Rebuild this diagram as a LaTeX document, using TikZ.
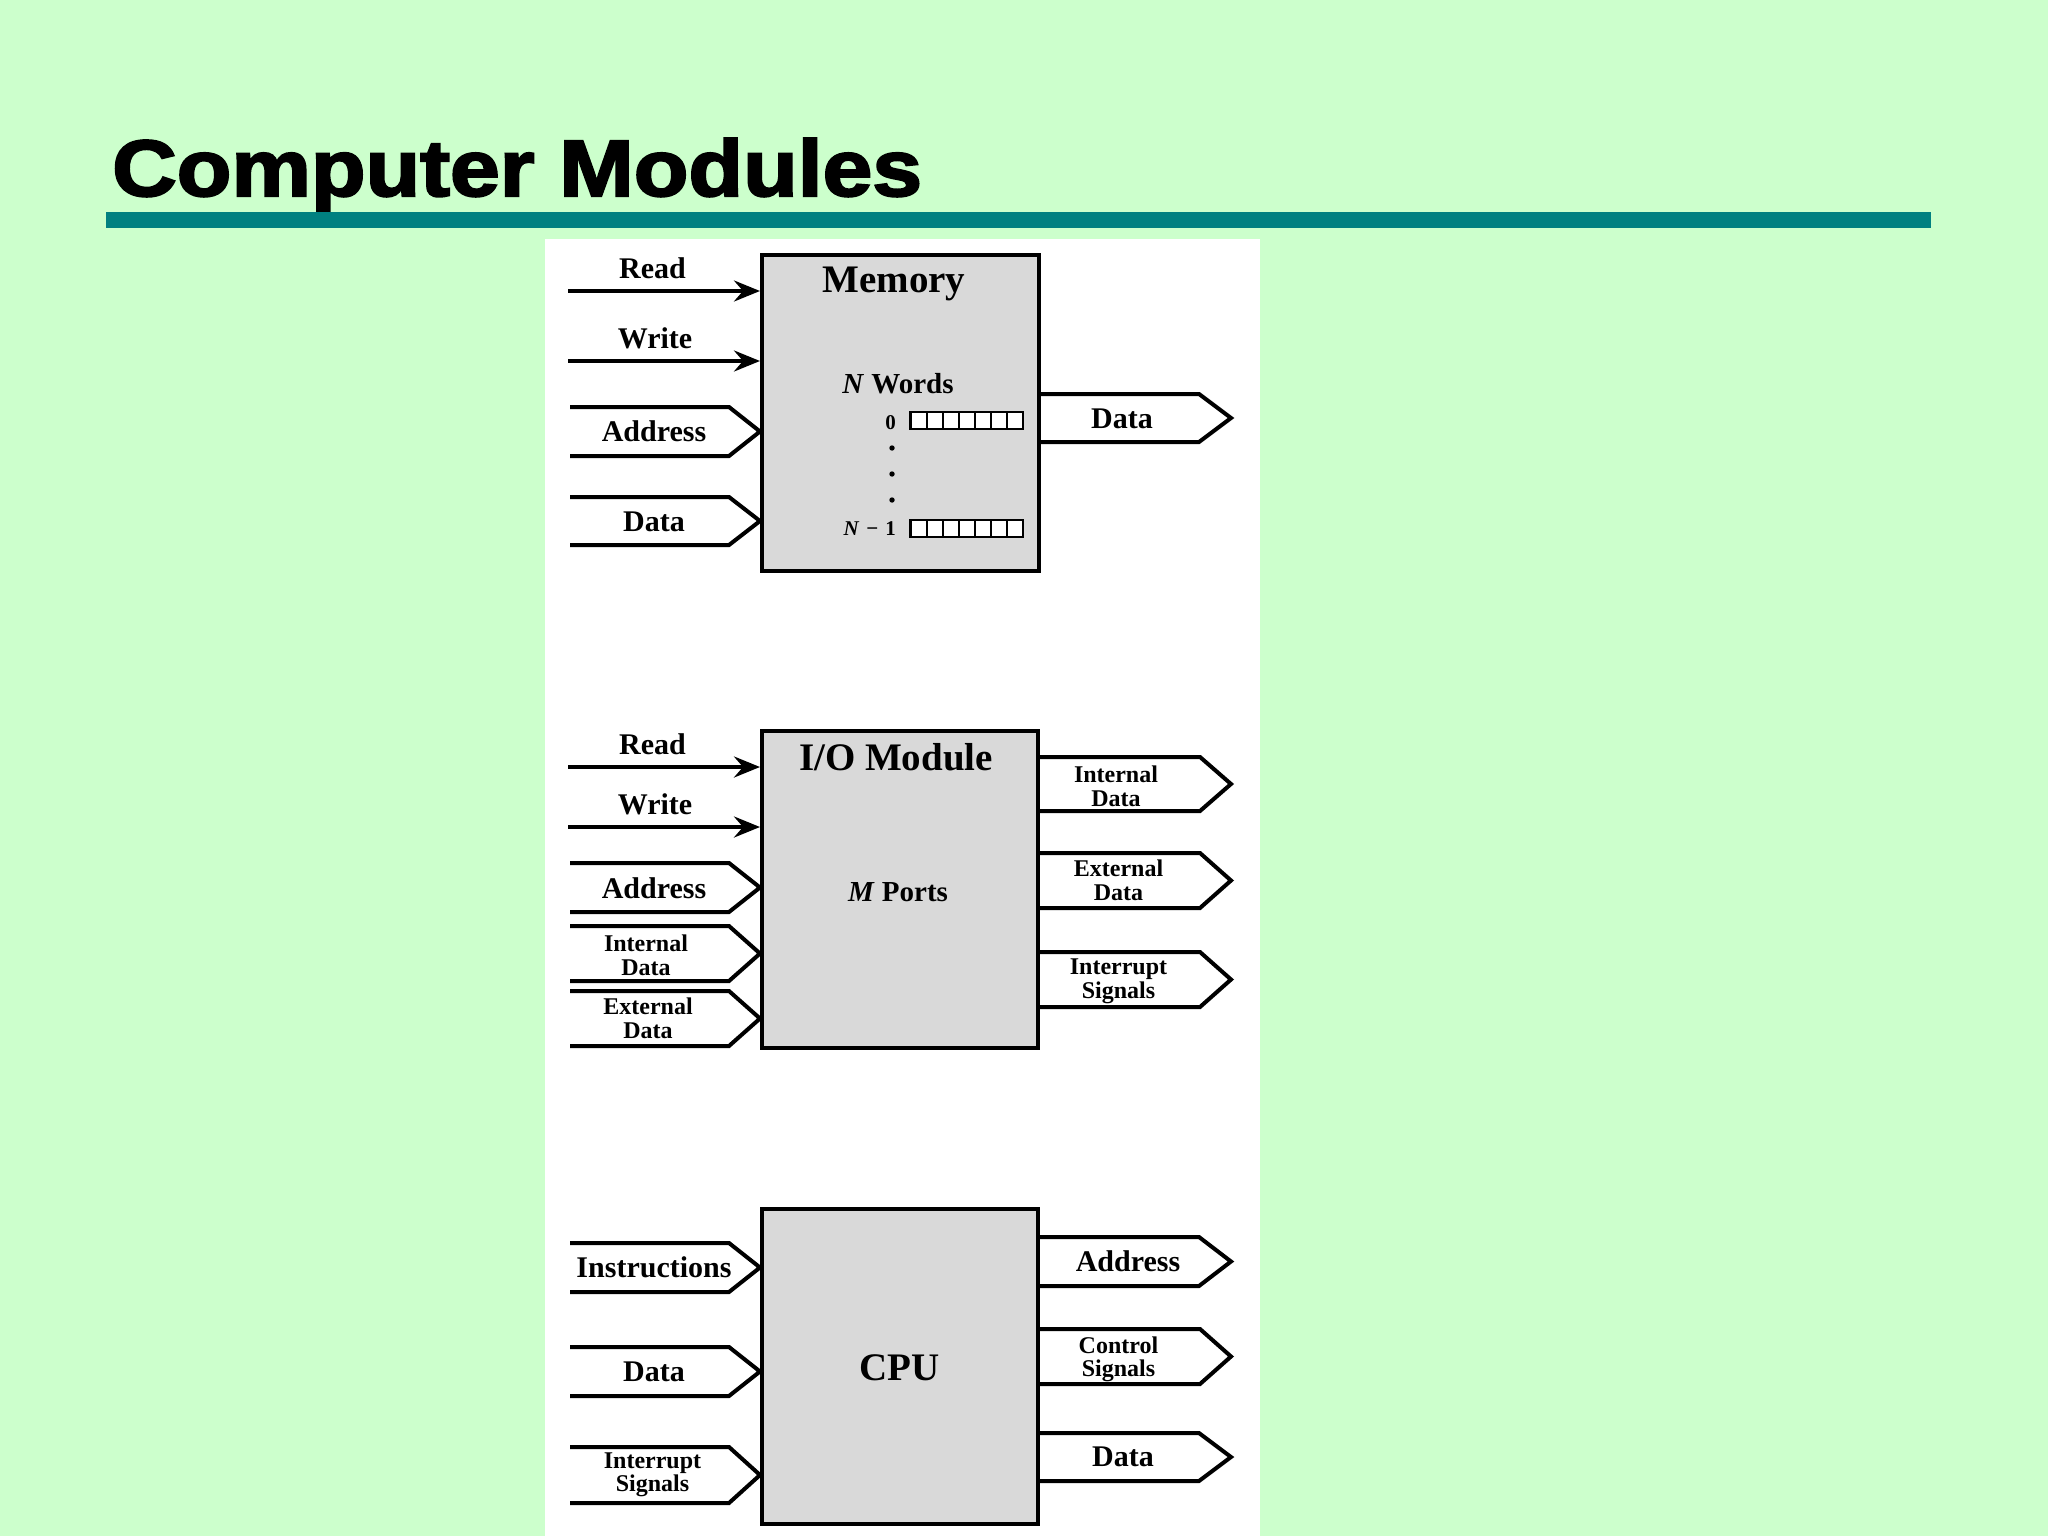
\documentclass[tikz,border=0pt]{standalone}
\usepackage{fontspec}
\usepackage{graphicx}
\setmainfont{Liberation Serif}
\newfontfamily\titlefont[BoldFeatures={FakeBold=2.5}]{Liberation Sans}
\usetikzlibrary{arrows.meta}
\definecolor{bgreen}{HTML}{CCFFCC}
\definecolor{tealbar}{HTML}{008080}
\definecolor{boxgray}{HTML}{D9D9D9}
\begin{document}
\begin{tikzpicture}[x=1pt,y=-1pt,
  mod/.style={draw=black, fill=boxgray, line width=4pt, inner sep=0pt, minimum width=277pt},
  busline/.style={draw=black, line width=4pt, line join=miter},
  sig/.style={draw=black, line width=4pt, -{Stealth[length=26pt,width=21pt,inset=9pt]}},
  lbl/.style={font=\fontsize{30}{30}\selectfont\bfseries, inner sep=0pt, anchor=base},
  lbltwo/.style={font=\fontsize{24}{23.4}\selectfont\bfseries, align=center, inner sep=0pt, anchor=base},
  big/.style={font=\fontsize{39}{39}\selectfont\bfseries, inner sep=0pt, anchor=base},
  midlbl/.style={font=\fontsize{29}{29}\selectfont\bfseries, inner sep=0pt, anchor=base},
  smalllbl/.style={font=\fontsize{21}{21}\selectfont\bfseries, inner sep=0pt, anchor=base east},
  reg/.style={draw=black, fill=white, line width=2.2pt}
]
\useasboundingbox (0,0) rectangle (2048,1536);
\fill[bgreen] (0,0) rectangle (2048,1536);
% title and bar
\node[anchor=base west, inner sep=0pt, font=\titlefont\bfseries\fontsize{80}{80}\selectfont] (title) at (112,196) {\scalebox{1.118}[1]{Computer Modules}};
\fill[tealbar] (106,211.5) rectangle (1931,228);
% white panel
\fill[white] (545,239) rectangle (1260,1536);

% ================= Memory =================
\node[mod, minimum width=276.5pt, minimum height=315.7pt] (mem) at (900.25,412.85) {};
\node[big] (memT) at (894,292.5) {Memory};
\node[midlbl] (nw) at (898,393) {\textit{N} Words};
\node[smalllbl] (r0) at (896,429.3) {0};
\node[smalllbl] (rN) at (896,535) {\textit{N}\,\,−\,\,1};
\foreach \i in {0,...,6} {
  \draw[reg] ({910.5+\i*16.1},412) rectangle ++(16.1,17.3);
  \draw[reg] ({910.5+\i*16.1},520) rectangle ++(16.1,17.3);
}
\fill (892,448) circle (2.7);
\fill (892,474) circle (2.7);
\fill (892,500) circle (2.7);

\draw[sig] (568,291) -- (mem.west |- 0,291);
\draw[sig] (568,361) -- (mem.west |- 0,361);
\draw[busline] (570,407) -- (729,407) -- (mem.west |- 0,431.5) -- (729,456) -- (570,456);
\draw[busline] (570,497) -- (729,497) -- (mem.west |- 0,521) -- (729,545) -- (570,545);
\draw[busline] (mem.east |- 0,394) -- (1199,394) -- (1231,418) -- (1199,442) -- (mem.east |- 0,442);

\node[lbl] (mRd) at (652.5,278) {Read};
\node[lbl] (mWr) at (655,348) {Write};
\node[lbl] (mAd) at (654,441.5) {Address};
\node[lbl] (mDi) at (654,531) {Data};
\node[lbl] (mDo) at (1122,428.5) {Data};

% ================= I/O Module =================
\node[mod, minimum width=276pt, minimum height=317pt] (io) at (900,889.5) {};
\node[big] (ioT) at (896,770) {I/O Module};
\node[midlbl] (mp) at (898,901.7) {\textit{M} Ports};

\draw[sig] (568,767) -- (io.west |- 0,767);
\draw[sig] (568,827) -- (io.west |- 0,827);
\draw[busline] (570,863) -- (729,863) -- (io.west |- 0,887.5) -- (729,912) -- (570,912);
\draw[busline] (570,926) -- (729,926) -- (io.west |- 0,953.5) -- (729,981) -- (570,981);
\draw[busline] (570,991) -- (729,991) -- (io.west |- 0,1018.5) -- (729,1046) -- (570,1046);
\draw[busline] (io.east |- 0,757) -- (1200,757) -- (1231,784) -- (1200,811) -- (io.east |- 0,811);
\draw[busline] (io.east |- 0,853) -- (1200,853) -- (1231,880.5) -- (1200,908) -- (io.east |- 0,908);
\draw[busline] (io.east |- 0,952) -- (1200,952) -- (1231,979.5) -- (1200,1007) -- (io.east |- 0,1007);

\node[lbl] (iRd) at (652.5,754) {Read};
\node[lbl] (iWr) at (655,814) {Write};
\node[lbl] (iAd) at (654,898.3) {Address};
\node[lbltwo] (iID) at (646,975) {Internal\\Data};
\node[lbltwo] (iED) at (648,1038.3) {External\\Data};
\node[lbltwo] (oID) at (1116,806) {Internal\\Data};
\node[lbltwo] (oED) at (1118.5,900) {External\\Data};
\node[lbltwo] (oIS) at (1118.5,998.3) {Interrupt\\Signals};

% ================= CPU =================
\node[mod, minimum width=276pt, minimum height=314.5pt] (cpu) at (900,1366.25) {};
\node[big] (cpuT) at (899.5,1380.7) {CPU};

\draw[busline] (570,1243) -- (729,1243) -- (cpu.west |- 0,1267.5) -- (729,1292) -- (570,1292);
\draw[busline] (570,1347) -- (729,1347) -- (cpu.west |- 0,1371.5) -- (729,1396) -- (570,1396);
\draw[busline] (570,1447) -- (729,1447) -- (cpu.west |- 0,1475) -- (729,1503) -- (570,1503);
\draw[busline] (cpu.east |- 0,1237) -- (1199,1237) -- (1231,1261.5) -- (1199,1286) -- (cpu.east |- 0,1286);
\draw[busline] (cpu.east |- 0,1329) -- (1200,1329) -- (1231,1356.5) -- (1200,1384) -- (cpu.east |- 0,1384);
\draw[busline] (cpu.east |- 0,1433) -- (1199,1433) -- (1231,1457) -- (1199,1481) -- (cpu.east |- 0,1481);

\node[lbl] (cIn) at (654,1277.3) {Instructions};
\node[lbl] (cDi) at (654,1381.7) {Data};
\node[lbltwo] (cIS) at (652.5,1491.7) {Interrupt\\Signals};
\node[lbl] (cAd) at (1128,1271.7) {Address};
\node[lbltwo] (cCS) at (1118.5,1376.7) {Control\\Signals};
\node[lbl] (cDo) at (1123,1466.7) {Data};
\end{tikzpicture}
\end{document}
